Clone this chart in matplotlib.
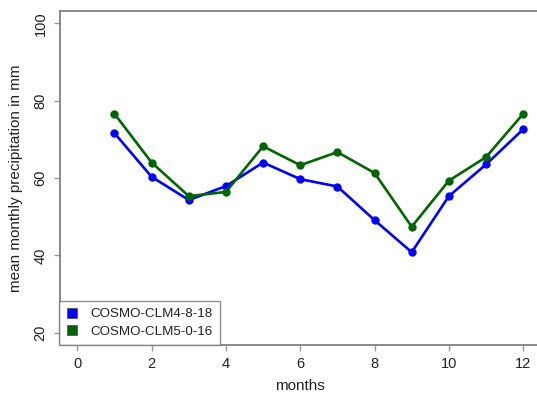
import matplotlib
matplotlib.use("Agg")
import matplotlib.pyplot as plt
from matplotlib.patches import Patch

plt.rcParams['font.family'] = ['Liberation Sans', 'DejaVu Sans']

months = list(range(1, 13))
clm4 = [71.6, 60.3, 54.3, 57.9, 64.0, 59.7, 57.8, 49.1, 40.8, 55.3, 63.5, 72.6]
clm5 = [76.6, 64.0, 55.3, 56.4, 68.2, 63.3, 66.7, 61.3, 47.4, 59.3, 65.4, 76.6]
labels = ["COSMO-CLM4-8-18", "COSMO-CLM5-0-16"]
colors = ["#0000ff", "#006400"]
xticks = [0, 2, 4, 6, 8, 10, 12]
yticks = [20, 40, 60, 80, 100]

W, H = 537, 397
fig = plt.figure(figsize=(W / 100, H / 100), dpi=100)
x0, x1 = 59.5, 541
y0, y1 = 345, 11
ax = fig.add_axes([x0 / W, 1 - y0 / H, (x1 - x0) / W, (y0 - y1) / H])

for vals, c, lab in zip([clm4, clm5], colors, labels):
    ax.plot(months, vals, color=c, lw=1.9, marker='o', ms=5.0, label=lab)

ax.set_xlim(-0.48, 12.48)
ax.set_ylim(16.8, 103.2)
ax.set_xticks(xticks)
ax.set_yticks(yticks)
ax.set_yticklabels([str(v) for v in yticks], rotation=90, va='center')
ax.tick_params(axis='both', direction='out', length=4.5, width=1, color='#999999',
               labelsize=10.5, labelcolor='#222222', pad=4)
for s in ax.spines.values():
    s.set_color('#777777')
    s.set_linewidth(1.2)
ax.spines['right'].set_visible(False)

ax.set_xlabel("months", fontsize=11, color='#222222', labelpad=6)
ax.set_ylabel("mean monthly precipitation in mm", fontsize=11, color='#222222', labelpad=8)

handles = [Patch(facecolor=c, edgecolor='#333333', lw=0.4) for c in colors]
leg = ax.legend(handles, labels, loc='lower left', bbox_to_anchor=(0, 0), fontsize=9.6,
                frameon=True, fancybox=False, borderaxespad=0, handlelength=0.75,
                handleheight=0.75, handletextpad=1.0, borderpad=0.55, labelspacing=0.35)
leg.get_frame().set_edgecolor('#777777')
leg.get_frame().set_linewidth(1.0)
for t in leg.get_texts():
    t.set_color('#222222')

fig.savefig("out.png", dpi=100)
